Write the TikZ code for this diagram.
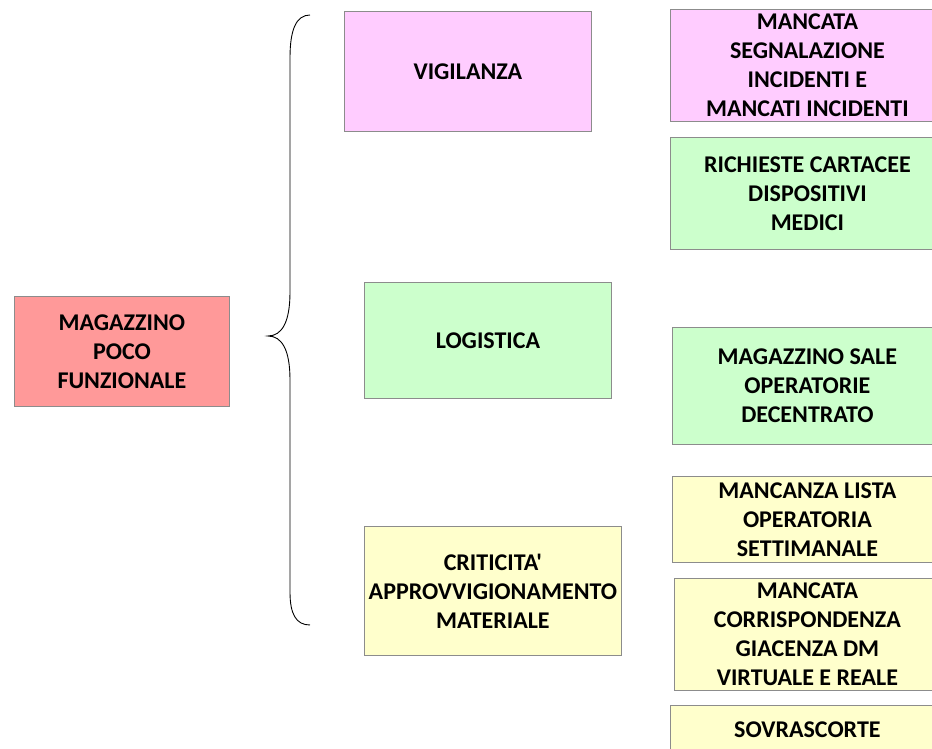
\documentclass[tikz,border=0pt]{standalone}
\usepackage{fontspec}
\setmainfont{Carlito}[Ligatures=TeXOff]
\definecolor{cRed}{HTML}{FF9999}
\definecolor{cPink}{HTML}{FFCCFF}
\definecolor{cGreen}{HTML}{CCFFCC}
\definecolor{cYellow}{HTML}{FFFFCC}
\definecolor{cEdge}{HTML}{8C8C8C}
\tikzset{
  box/.style={draw=cEdge, line width=0.8pt, anchor=north west, align=center,
    inner sep=2pt, font=\fontsize{24}{29}\selectfont\bfseries},
}
\begin{document}
\begin{tikzpicture}[x=1pt,y=-1pt]
\useasboundingbox (0,0) rectangle (932,749);
\clip (0,0) rectangle (932,749);
% left root
\node[box, fill=cRed, minimum width=215pt, minimum height=110pt] (root) at (14,296) {MAGAZZINO\\POCO\\FUNZIONALE};
% middle
\node[box, fill=cPink, minimum width=247pt, minimum height=120pt] (vig) at (344,11) {VIGILANZA};
\node[box, fill=cGreen, minimum width=247pt, minimum height=116pt] (log) at (364,282) {LOGISTICA};
\node[box, fill=cYellow, minimum width=257pt, minimum height=129pt] (crit) at (364,526) {CRITICITA'\\APPROVVIGIONAMENTO\\MATERIALE};
% right
\node[box, fill=cPink, minimum width=274pt, minimum height=112pt] (r1) at (670,9) {MANCATA\\SEGNALAZIONE\\INCIDENTI E\\MANCATI INCIDENTI};
\node[box, fill=cGreen, minimum width=274pt, minimum height=112pt] (r2) at (670,137) {RICHIESTE CARTACEE\\DISPOSITIVI\\MEDICI};
\node[box, fill=cGreen, minimum width=270pt, minimum height=117pt] (r3) at (672,327) {MAGAZZINO SALE\\OPERATORIE\\DECENTRATO};
\node[box, fill=cYellow, minimum width=270pt, minimum height=86pt] (r4) at (672,476) {MANCANZA LISTA\\OPERATORIA\\SETTIMANALE};
\node[box, fill=cYellow, minimum width=266pt, minimum height=112pt] (r5) at (674,578) {MANCATA\\CORRISPONDENZA\\GIACENZA DM\\VIRTUALE E REALE};
\node[box, fill=cYellow, minimum width=274pt, minimum height=48pt] (r6) at (670,705) {SOVRASCORTE};
% brace
\draw[line width=0.9pt] (310,15) .. controls (296,15) and (290,30) .. (290,58)
  -- (290,292) .. controls (290,322) and (282,336) .. (268,336)
  .. controls (282,336) and (290,350) .. (290,380)
  -- (290,592) .. controls (290,614) and (296,625) .. (310,625);
\end{tikzpicture}
\end{document}
